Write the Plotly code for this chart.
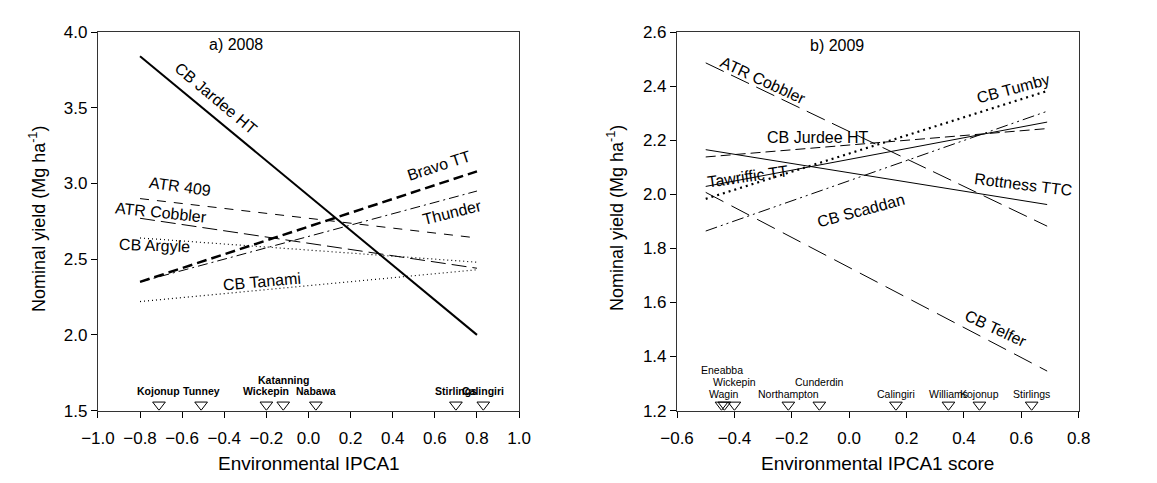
import plotly.graph_objects as go

# ---------------- data ----------------
# Panel a) 2008
x_a = [-0.8, 0.8]
a_names = ["CB Jardee HT", "Bravo TT", "Thunder", "ATR 409", "ATR Cobbler", "CB Argyle", "CB Tanami"]
a_yields = {
    "CB Jardee HT": [3.84, 2.00],
    "Bravo TT": [2.35, 3.08],
    "Thunder": [2.35, 2.95],
    "ATR 409": [2.90, 2.64],
    "ATR Cobbler": [2.77, 2.44],
    "CB Argyle": [2.64, 2.48],
    "CB Tanami": [2.22, 2.43],
}
a_sites = ["Kojonup", "Tunney", "Wickepin", "Katanning", "Nabawa", "Stirlings", "Calingiri"]
a_site_x = [-0.71, -0.51, -0.20, -0.12, 0.035, 0.70, 0.83]
a_site_row = [0, 0, 0, 1, 0, 0, 0]
a_site_y = 1.538

# Panel b) 2009
x_b = [-0.5, 0.69]
b_names = ["ATR Cobbler", "CB Tumby", "CB Jurdee HT", "Tawriffic TT", "Rottness TTC", "CB Scaddan", "CB Telfer"]
b_yields = {
    "ATR Cobbler": [2.486, 1.882],
    "CB Tumby": [1.983, 2.382],
    "CB Jurdee HT": [2.138, 2.243],
    "Tawriffic TT": [2.029, 2.267],
    "Rottness TTC": [2.165, 1.962],
    "CB Scaddan": [1.864, 2.307],
    "CB Telfer": [2.007, 1.346],
}
b_sites = ["Eneabba", "Wagin", "Wickepin", "Northampton", "Cunderdin", "Calingiri", "Williams", "Kojonup", "Stirlings"]
b_site_x = [-0.445, -0.435, -0.40, -0.212, -0.104, 0.163, 0.346, 0.454, 0.636]
b_site_row = [2, 0, 1, 0, 1, 0, 0, 0, 0]
b_site_y = 1.221

# ---------------- styles ----------------
a_style = {
    "CB Jardee HT": dict(width=2, dash="solid"),
    "Bravo TT": dict(width=2.5, dash="10px,5px"),
    "Thunder": dict(width=1, dash="10px,4px,2px,4px"),
    "ATR 409": dict(width=1, dash="9px,8px"),
    "ATR Cobbler": dict(width=1, dash="15px,6px"),
    "CB Argyle": dict(width=1.2, dash="1px,3px"),
    "CB Tanami": dict(width=1.2, dash="1px,3px"),
}
b_style = {
    "ATR Cobbler": dict(width=1, dash="20px,8px"),
    "CB Tumby": dict(width=2.2, dash="2px,4px"),
    "CB Jurdee HT": dict(width=1, dash="10px,5px"),
    "Tawriffic TT": dict(width=1, dash="solid"),
    "Rottness TTC": dict(width=1, dash="solid"),
    "CB Scaddan": dict(width=1, dash="12px,4px,2px,4px,2px,4px"),
    "CB Telfer": dict(width=1, dash="20px,9px"),
}
# label placement (x, y, angle)
a_lab = {
    "CB Jardee HT": (-0.44, 3.56, 40),
    "Bravo TT": (0.62, 3.12, -18),
    "Thunder": (0.68, 2.81, -14),
    "ATR 409": (-0.61, 2.98, 8),
    "ATR Cobbler": (-0.70, 2.81, 6),
    "CB Argyle": (-0.73, 2.59, 2),
    "CB Tanami": (-0.22, 2.35, -5),
}
b_lab = {
    "ATR Cobbler": (-0.30, 2.42, 25),
    "CB Tumby": (0.572, 2.39, -15),
    "CB Jurdee HT": (-0.107, 2.21, 0),
    "Tawriffic TT": (-0.355, 2.067, -8),
    "Rottness TTC": (0.606, 2.035, 7),
    "CB Scaddan": (0.042, 1.94, -15),
    "CB Telfer": (0.511, 1.505, 25),
}

FONT = "Liberation Sans, Arial, sans-serif"
fig = go.Figure()

for n in a_names:
    fig.add_trace(go.Scatter(x=x_a, y=a_yields[n], mode="lines", line=dict(color="black", **a_style[n]),
                             xaxis="x", yaxis="y", showlegend=False, hoverinfo="skip"))
for n in b_names:
    fig.add_trace(go.Scatter(x=x_b, y=b_yields[n], mode="lines", line=dict(color="black", **b_style[n]),
                             xaxis="x2", yaxis="y2", showlegend=False, hoverinfo="skip"))

fig.add_trace(go.Scatter(x=a_site_x, y=[a_site_y] * len(a_site_x), mode="markers",
                         marker=dict(symbol="triangle-down-open", size=11, color="black", line=dict(width=1)),
                         xaxis="x", yaxis="y", showlegend=False, hoverinfo="skip"))
fig.add_trace(go.Scatter(x=b_site_x, y=[b_site_y] * len(b_site_x), mode="markers",
                         marker=dict(symbol="triangle-down-open", size=11, color="black", line=dict(width=1)),
                         xaxis="x2", yaxis="y2", showlegend=False, hoverinfo="skip"))

ann = []
for n in a_names:
    x, y, ang = a_lab[n]
    ann.append(dict(x=x, y=y, xref="x", yref="y", text=n, textangle=ang, showarrow=False,
                    xanchor="center", yanchor="middle",
                    font=dict(size=16, family=FONT, color="black")))
for n in b_names:
    x, y, ang = b_lab[n]
    ann.append(dict(x=x, y=y, xref="x2", yref="y2", text=n, textangle=ang, showarrow=False,
                    xanchor="center", yanchor="middle",
                    font=dict(size=16, family=FONT, color="black")))
for s, x, r in zip(a_sites, a_site_x, a_site_row):
    ann.append(dict(x=x, y=a_site_y, xref="x", yref="y", text="<b>%s</b>" % s, showarrow=False,
                    xanchor="center", yanchor="middle",
                    yshift=14 + 11 * r, font=dict(size=10.5, family=FONT, color="black")))
for s, x, r in zip(b_sites, b_site_x, b_site_row):
    ann.append(dict(x=x, y=b_site_y, xref="x2", yref="y2", text=s, showarrow=False,
                    xanchor="center", yanchor="middle",
                    yshift=11 + 12 * r, font=dict(size=10.5, family=FONT, color="black")))

ann.append(dict(x=-0.343, y=3.92, xref="x", yref="y", text="a) 2008", showarrow=False,
                xanchor="center", yanchor="middle", font=dict(size=16, family=FONT, color="black")))
ann.append(dict(x=-0.043, y=2.55, xref="x2", yref="y2", text="b) 2009", showarrow=False,
                xanchor="center", yanchor="middle", font=dict(size=16, family=FONT, color="black")))

W, H = 1157, 483
ytitle = "Nominal yield (Mg ha<sup>-1</sup>)"
for xp in (21, 614):
    ann.append(dict(x=xp / W, y=1 - 218 / H, xref="paper", yref="paper", text=ytitle, textangle=-90,
                    xanchor="center", yanchor="middle",
                    showarrow=False, font=dict(size=18, family=FONT, color="black")))
ann.append(dict(x=299 / W, y=1 - 473 / H, xref="paper", yref="paper", text="Environmental IPCA1",
                xanchor="center", yanchor="middle",
                showarrow=False, font=dict(size=19, family=FONT, color="black")))
ann.append(dict(x=883 / W, y=1 - 473 / H, xref="paper", yref="paper", text="Environmental IPCA1 score",
                xanchor="center", yanchor="middle",
                showarrow=False, font=dict(size=19, family=FONT, color="black")))

ax_common = dict(showgrid=False, zeroline=False, showline=True, linecolor="#333", linewidth=1.2,
                 mirror=True, ticks="outside", ticklen=6, tickcolor="black", tickwidth=1,
                 tickfont=dict(size=17, family=FONT, color="black"))

fig.update_layout(
    width=W, height=H, margin=dict(l=0, r=0, t=0, b=0),
    paper_bgcolor="white", plot_bgcolor="white",
    xaxis=dict(domain=[83 / W, 515 / W], range=[-1.0, 1.0], tickvals=[-1.0, -0.8, -0.6, -0.4, -0.2, 0.0, 0.2, 0.4, 0.6, 0.8, 1.0],
               tickformat=".1f", anchor="y", ticklabelstandoff=6, **ax_common),
    yaxis=dict(domain=[1 - 418 / H, 1 - 24 / H], range=[1.5, 4.0], tickvals=[1.5, 2.0, 2.5, 3.0, 3.5, 4.0],
               tickformat=".1f", anchor="x", **ax_common),
    xaxis2=dict(domain=[677 / W, 1089 / W], range=[-0.6, 0.8], tickvals=[-0.6, -0.4, -0.2, 0.0, 0.2, 0.4, 0.6, 0.8],
                tickformat=".1f", anchor="y2", ticklabelstandoff=6, **ax_common),
    yaxis2=dict(domain=[1 - 418 / H, 1 - 24 / H], range=[1.2, 2.6], tickvals=[1.2, 1.4, 1.6, 1.8, 2.0, 2.2, 2.4, 2.6],
                tickformat=".1f", anchor="x2", **ax_common),
    annotations=ann,
)

fig.write_html("out.html")
